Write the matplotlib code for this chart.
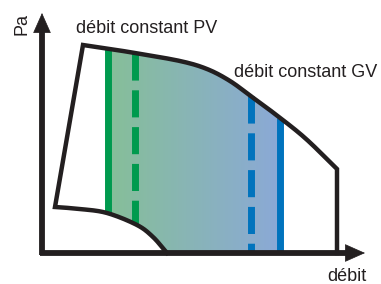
import numpy as np
import matplotlib
matplotlib.use("Agg")
import matplotlib.pyplot as plt
from matplotlib.patches import Polygon
from matplotlib.colors import to_rgb

plt.rcParams['font.family'] = ['Liberation Sans', 'DejaVu Sans']

# ---- data (schematic units: débit on x, Pa on y) ----
top_x = [41, 68, 93, 138, 165, 188, 210, 233, 263, 295]
top_y = [208, 204, 200, 192, 184, 172, 156, 139, 115, 84]
bot_x = [13, 38, 65, 95, 111, 125]
bot_y = [46, 44, 40, 28, 16, 0]
x_max = 295          # right vertical limit
pv_solid = 66        # débit constant PV (solid)
pv_dash = 93         # PV dashed
gv_dash = 209        # GV dashed
gv_solid = 238       # GV solid

labels = {"pv": "débit constant PV", "gv": "débit constant GV",
          "x": "débit", "y": "Pa"}

dark = "#231f20"
green = "#009a4e"
blue = "#0073bd"
fill_left = "#86bf98"
fill_right = "#8ba9d7"


def smooth(xp, yp, n=20):
    """Catmull-Rom rendering of a curve through the given points."""
    P = np.column_stack([xp, yp]).astype(float)
    P = np.vstack([2 * P[0] - P[1], P, 2 * P[-1] - P[-2]])
    out = []
    s = np.linspace(0, 1, n, endpoint=False)[:, None]
    for i in range(1, len(P) - 2):
        p0, p1, p2, p3 = P[i - 1], P[i], P[i + 1], P[i + 2]
        seg = 0.5 * ((2 * p1) + (-p0 + p2) * s + (2 * p0 - 5 * p1 + 4 * p2 - p3) * s ** 2
                     + (-p0 + 3 * p1 - 3 * p2 + p3) * s ** 3)
        out.append(seg)
    out.append(P[-2][None, :])
    out = np.vstack(out)
    return out[:, 0], out[:, 1]


tx, ty = smooth(top_x, top_y)
bx, by = smooth(bot_x, bot_y)

fig = plt.figure(figsize=(3.81, 2.84), dpi=100)
ax = fig.add_axes([0, 0, 1, 1])
ax.set_xlim(-42, 339)
ax.set_ylim(-31, 253)
ax.axis("off")


def top_at(x):
    return np.interp(x, tx, ty)


def bot_at(x):
    return np.interp(x, bx, by, right=0.0)


# gradient fill
xs = np.linspace(pv_solid, gv_solid, 300)
verts = np.concatenate([np.column_stack([xs, top_at(xs)]),
                        np.column_stack([xs[::-1], bot_at(xs[::-1])])])
poly = Polygon(verts, closed=True, facecolor="none", edgecolor="none")
ax.add_patch(poly)
c0, c1 = np.array(to_rgb(fill_left)), np.array(to_rgb(fill_right))
t = np.linspace(0, 1, 256)[None, :, None]
grad = c0 * (1 - t) + c1 * t
im = ax.imshow(grad, extent=[pv_solid, gv_solid, 0, 210], aspect="auto",
               origin="lower", zorder=1, interpolation="bilinear")
im.set_clip_path(poly)

# vertical lines
lw_v = 5
ax.plot([pv_solid, pv_solid], [top_at(pv_solid), bot_at(pv_solid)], color=green,
        lw=lw_v, solid_capstyle="butt", zorder=2)
ax.plot([pv_dash, pv_dash], [top_at(pv_dash), bot_at(pv_dash)], color=green,
        lw=lw_v, linestyle=(0, (3.9, 1.4)), dash_capstyle="butt", zorder=2)
ax.plot([gv_dash, gv_dash], [top_at(gv_dash), bot_at(gv_dash)], color=blue,
        lw=lw_v, linestyle=(0, (3.9, 1.4)), dash_capstyle="butt", zorder=2)
ax.plot([gv_solid, gv_solid], [top_at(gv_solid), bot_at(gv_solid)], color=blue,
        lw=lw_v, solid_capstyle="butt", zorder=2)

# outline curve
ox = list(bx[::-1]) + list(tx) + [x_max]
oy = list(by[::-1]) + list(ty) + [0]
ax.plot(ox, oy, color=dark, lw=3.2, solid_joinstyle="miter", zorder=3)

# axes with arrows
lw_a = 4.2
ax.plot([-2, 308], [0, 0], color=dark, lw=lw_a, solid_capstyle="butt", zorder=4)
ax.plot([0, 0], [-2, 224], color=dark, lw=lw_a, solid_capstyle="butt", zorder=4)
ap = dict(arrowstyle="-|>,head_length=1.35,head_width=0.6", color=dark, lw=0.5,
          shrinkA=0, shrinkB=0, mutation_scale=10)
ax.annotate("", xy=(323, 0), xytext=(290, 0), arrowprops=ap, zorder=5)
ax.annotate("", xy=(0, 240), xytext=(0, 210), arrowprops=ap, zorder=5)

fs = 13
ax.text(34, 220, labels["pv"], fontsize=fs, color=dark, ha="left", va="baseline")
ax.text(192, 176, labels["gv"], fontsize=fs, color=dark, ha="left", va="baseline")
ax.text(285, -28, labels["x"], fontsize=fs, color=dark, ha="left", va="baseline")
ax.text(-20, 229, labels["y"], fontsize=fs, color=dark, ha="center", va="center",
        rotation=90)

fig.savefig("out.png", dpi=100)
